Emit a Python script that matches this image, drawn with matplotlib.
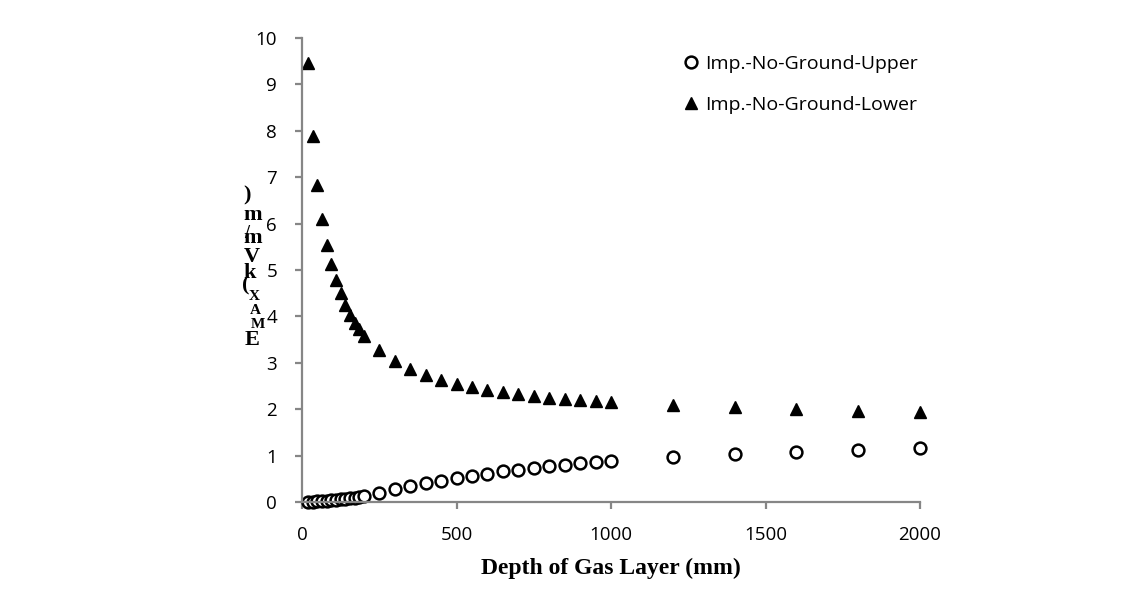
import matplotlib.pyplot as plt

# depth of gas layer (mm)
depth = [20, 35, 50, 65, 80, 95, 110, 125, 140, 155, 170, 185, 200,
         250, 300, 350, 400, 450, 500, 550, 600, 650, 700, 750, 800, 850, 900, 950, 1000,
         1200, 1400, 1600, 1800, 2000]

# E_MAX (kV/mm)
upper = [0.005, 0.01, 0.015, 0.02, 0.03, 0.04, 0.05, 0.06, 0.07, 0.08, 0.095, 0.11, 0.13,
         0.19, 0.27, 0.34, 0.40, 0.46, 0.51, 0.56, 0.61, 0.66, 0.70, 0.74, 0.77, 0.80, 0.83, 0.86, 0.88,
         0.97, 1.03, 1.08, 1.12, 1.16]
lower = [9.47, 7.88, 6.84, 6.10, 5.54, 5.12, 4.79, 4.50, 4.25, 4.04, 3.86, 3.72, 3.58,
         3.27, 3.03, 2.86, 2.73, 2.62, 2.54, 2.47, 2.41, 2.36, 2.32, 2.28, 2.25, 2.22, 2.20, 2.18, 2.16,
         2.10, 2.04, 2.00, 1.97, 1.94]

labels = ['Imp.-No-Ground-Upper', 'Imp.-No-Ground-Lower']

W, H = 1143, 603
fig = plt.figure(figsize=(W / 100, H / 100), dpi=100)
ax = fig.add_axes([302 / W, 1 - 502 / H, (920 - 302) / W, (502 - 38) / H])

ax.plot(depth, upper, 'o', linestyle='none', markersize=8.5, markerfacecolor='white',
        markeredgecolor='black', markeredgewidth=1.8, label=labels[0], clip_on=False)
ax.plot(depth, lower, '^', linestyle='none', markersize=9, color='black',
        label=labels[1], clip_on=False)

ax.set_xlim(0, 2000)
ax.set_ylim(0, 10)
ax.set_xticks([0, 500, 1000, 1500, 2000])
ax.set_yticks(range(0, 11))

gray = '#868686'
for s in ['top', 'right']:
    ax.spines[s].set_visible(False)
for s in ['left', 'bottom']:
    ax.spines[s].set_color(gray)
    ax.spines[s].set_linewidth(1.6)
ax.tick_params(direction='out', length=5, width=1.6, color=gray,
               labelsize=13.5, labelcolor='black')
ax.tick_params(axis='x', pad=12)
ax.tick_params(axis='y', pad=13)
for t in ax.get_xticklabels() + ax.get_yticklabels():
    t.set_family('Open Sans')

ax.set_xlabel('Depth of Gas Layer (mm)', fontsize=17, fontweight='bold',
              family='Liberation Serif', labelpad=10)

# garbled stacked y label as in the original
ylab = [(')', 247, 195, 16), ('m', 253, 215, 16), ('/', 247, 234, 13), ('m', 253, 238, 16),
        ('V', 252, 257, 16), ('k', 250, 273, 16), ('(', 246, 285, 16),
        ('X', 254, 297, 11), ('A', 255, 310, 11), ('M', 258, 324, 11), ('E', 252, 340, 16)]
for ch, px, py, fs in ylab:
    fig.text(px / W, 1 - py / H, ch, ha='center', va='center', fontsize=fs,
             fontweight='bold', family='Liberation Serif')

leg = ax.legend(loc='upper left', bbox_to_anchor=(670 / W, 1 - 45 / H),
                bbox_transform=fig.transFigure, frameon=False, fontsize=14,
                labelspacing=1.2, handletextpad=0.1, handlelength=1.2, borderpad=0)
for t in leg.get_texts():
    t.set_family('Open Sans')

fig.savefig('out.png', dpi=100)
